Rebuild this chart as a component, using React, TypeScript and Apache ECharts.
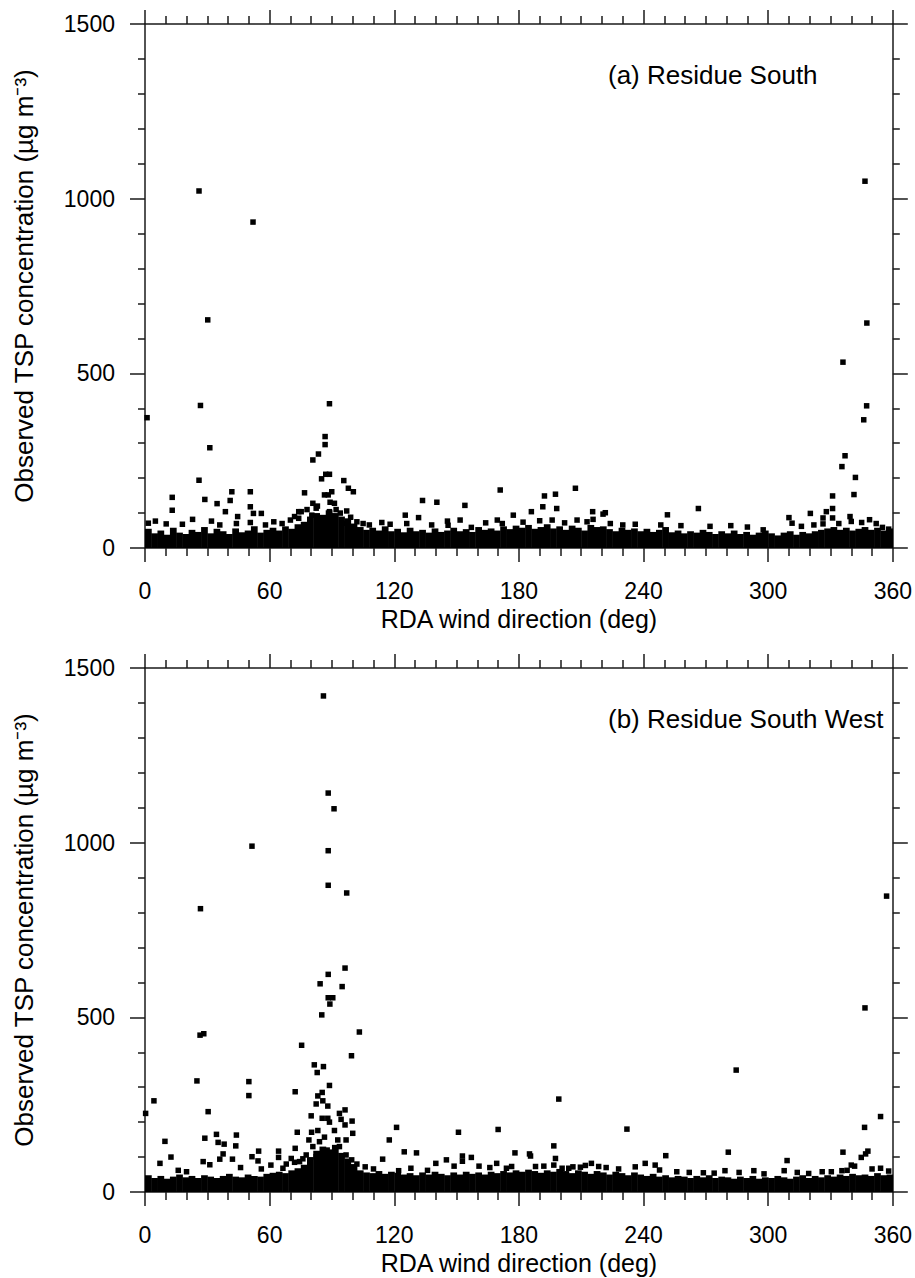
import React, { useEffect, useRef } from 'react';
import * as echarts from 'echarts';

const FONT = '"Liberation Sans", Arial, sans-serif';
const xTickStep = 60;
const yTickStep = 500;
const BIN = 3; // width (deg) of each dense-band bin

const titles = ['(a) Residue South', '(b) Residue South West'];
const xName = 'RDA wind direction (deg)';
const yName = 'Observed TSP concentration (\u00b5g m\u207b\u00b3)';

// upper edge of the dense band of low concentrations, one value per 3-degree bin (0..357)
const bandA = [
  55, 42, 50, 38, 58, 44, 40, 52, 46, 60, 42, 55, 48, 40, 56, 45, 50, 62, 44, 52,
  58, 50, 62, 55, 68, 75, 90, 100, 95, 108, 100, 90, 85, 70, 60, 52, 58, 50, 62, 48,
  55, 45, 58, 48, 52, 44, 56, 46, 50, 58, 48, 54, 46, 60, 52, 56, 50, 62, 54, 64,
  58, 66, 55, 60, 68, 56, 62, 52, 64, 58, 50, 66, 60, 62, 54, 48, 58, 52, 56, 48,
  55, 46, 52, 60, 45, 50, 42, 48, 44, 52, 46, 40, 48, 42, 50, 40, 46, 38, 44, 50,
  42, 36, 44, 48, 38, 46, 42, 48, 52, 56, 60, 52, 58, 50, 55, 60, 52, 58, 50, 56,
];
const bandB = [
  48, 40, 46, 38, 44, 50, 42, 46, 40, 48, 44, 40, 46, 52, 44, 42, 50, 46, 44, 52,
  55, 58, 54, 62, 68, 78, 100, 118, 130, 122, 135, 112, 96, 80, 62, 56, 54, 60, 52, 58,
  55, 50, 54, 48, 56, 50, 58, 52, 48, 56, 50, 58, 52, 56, 50, 58, 54, 60, 56, 62,
  58, 64, 60, 55, 62, 58, 66, 60, 54, 62, 58, 52, 60, 56, 50, 58, 54, 48, 56, 50,
  46, 52, 44, 48, 42, 46, 44, 40, 46, 42, 48, 40, 44, 42, 38, 44, 40, 46, 38, 42,
  40, 46, 42, 38, 44, 48, 40, 46, 42, 48, 44, 50, 46, 52, 48, 50, 46, 54, 48, 50,
];

// individual points standing above the band: [wind direction (deg), TSP (ug m-3)]
const pointsA = [
  [1.0, 373], [26.0, 1022], [30.2, 653], [52.0, 933], [26.7, 408], [31.2, 287], [26.0, 194],
  [88.8, 413], [86.7, 319], [86.7, 296], [346.6, 1050], [336.0, 532], [347.5, 644], [347.4, 407],
  [346.0, 367], [337.0, 264], [335.5, 233], [342.0, 202], [341.3, 153], [331.0, 149], [331.0, 113],
  [328.0, 104], [326.4, 86], [331.0, 86], [326.4, 69], [339.4, 90], [340.0, 76], [345.0, 73],
  [348.8, 81], [320.3, 99], [310.0, 87], [311.5, 71], [266.4, 113], [251.5, 95], [282.0, 64],
  [355.0, 59], [358.0, 54], [171.0, 166], [177.3, 94], [186.0, 104], [191.5, 118], [192.3, 149],
  [197.6, 154], [198.2, 113], [207.2, 171], [215.5, 104], [215.7, 82], [220.5, 97], [221.6, 101],
  [196.0, 80], [212.8, 75], [230.0, 66], [248.3, 66], [297.6, 52], [13.1, 145], [13.1, 108],
  [28.8, 139], [34.7, 127], [38.7, 104], [41.0, 136], [41.8, 161], [44.6, 90], [50.7, 161],
  [50.7, 118], [52.2, 99], [56.0, 99], [50.7, 73], [32.0, 77], [22.9, 82], [10.2, 69], [5.0, 77],
  [1.6, 71], [76.8, 158], [80.8, 252], [83.5, 269], [85.0, 198], [87.0, 211], [88.8, 211],
  [95.7, 193], [97.9, 171], [100.3, 161], [89.9, 161], [86.4, 152], [88.2, 152], [89.1, 131],
  [91.2, 128], [80.8, 128], [82.4, 114], [80.3, 94], [74.0, 104], [75.2, 104], [97.1, 106],
  [96.8, 71], [88.8, 104], [90.4, 90], [74.0, 85], [125.3, 94], [131.7, 87], [133.6, 136],
  [140.5, 131], [154.0, 122], [151.7, 80], [145.6, 77], [145.9, 65], [114.0, 73], [157.1, 59],
  [169.6, 80], [62, 75], [66, 70], [70, 80], [72, 90], [78, 110], [83, 120], [92, 110], [94, 100],
  [99, 88], [102, 75], [105, 70], [108, 66], [118, 68], [126, 70], [138, 66], [164, 72], [172, 70],
  [182, 74], [190, 78], [202, 72], [208, 80], [224, 70], [236, 68], [258, 64], [272, 62], [290, 60],
  [316, 62], [322, 66], [334, 70], [352, 70], [18, 68], [36, 66], [44, 70], [58, 66],
];
const pointsB = [
  [85.9, 1420], [88.2, 1142], [91.0, 1097], [51.5, 990], [88.2, 977], [88.2, 878], [97.1, 856],
  [26.7, 811], [96.3, 641], [88.2, 623], [84.3, 596], [94.9, 588], [88.2, 556], [90.4, 556],
  [89.0, 538], [85.1, 507], [103.2, 458], [26.5, 449], [28.3, 453], [75.4, 420], [99.4, 390],
  [81.5, 364], [85.9, 359], [82.9, 342], [346.6, 527], [357.0, 847], [284.6, 349], [199.2, 266],
  [232.0, 180], [0.3, 225], [4.3, 261], [25.0, 318], [50.0, 316], [50.0, 276], [30.4, 230],
  [9.6, 145], [7.2, 82], [12.5, 100], [28.8, 154], [28.0, 87], [34.4, 165], [35.2, 142],
  [38.1, 137], [44.0, 163], [43.7, 132], [42.1, 94], [37.6, 109], [36.0, 94], [31.2, 78],
  [51.5, 101], [54.7, 117], [54.4, 89], [60.6, 77], [64.3, 117], [64.3, 99], [66.4, 68],
  [70.4, 96], [72.3, 287], [73.3, 171], [72.3, 125], [80.0, 218], [80.2, 171], [82.4, 252],
  [83.2, 275], [85.3, 285], [88.8, 305], [85.6, 261], [88.0, 246], [85.3, 211], [88.0, 211],
  [88.8, 200], [83.2, 176], [78.9, 149], [84.0, 144], [86.4, 157], [91.2, 176], [92.8, 149],
  [93.6, 225], [96.3, 235], [94.4, 208], [96.3, 192], [99.7, 203], [100.0, 168], [96.8, 149],
  [96.8, 106], [99.5, 92], [114.4, 94], [117.6, 149], [121.1, 185], [124.8, 115], [130.7, 112],
  [122.1, 61], [140.0, 82], [145.1, 92], [150.9, 171], [152.8, 103], [157.1, 99], [152.8, 88],
  [160.8, 74], [148.8, 74], [170.0, 179], [169.3, 82], [77.6, 106], [74.4, 87], [80.8, 130],
  [82.4, 101], [87.7, 120], [90.4, 101], [93.6, 130], [196.8, 132], [197.6, 96], [196.8, 77],
  [178.1, 112], [185.1, 109], [185.6, 103], [176.5, 73], [188.0, 73], [200.8, 68], [204.0, 68],
  [209.6, 71], [214.9, 82], [218.4, 73], [240.8, 82], [245.6, 77], [247.7, 63], [250.7, 104],
  [268.8, 55], [279.2, 61], [280.8, 114], [293.1, 61], [307.7, 61], [309.1, 90], [319.5, 53],
  [336.0, 114], [335.5, 61], [340.0, 77], [341.6, 74], [344.8, 99], [346.9, 109], [348.0, 117],
  [346.4, 185], [354.1, 216], [354.1, 68], [330.4, 58], [16, 62], [20, 58], [46, 70], [56, 66],
  [68, 80], [72, 85], [76, 95], [102, 80], [106, 72], [110, 66], [128, 68], [136, 62], [166, 70],
  [174, 68], [192, 74], [206, 72], [212, 76], [222, 70], [228, 66], [236, 72], [256, 58], [262, 56],
  [274, 54], [286, 56], [298, 52], [314, 56], [326, 58], [338, 62], [350, 66], [358, 60],
];

const GRID_TOPS = [24, 668];
const AXIS_COLOR = '#1a1a1a';

export default function App() {
  const ref = useRef<HTMLDivElement>(null);
  useEffect(() => {
    if (!ref.current) return;
    const chart = echarts.init(ref.current, null, { renderer: 'svg' });
    const lineStyle = { color: AXIS_COLOR, width: 1.5 };
    const grids = GRID_TOPS.map((t) => ({ left: 145, top: t, width: 749, height: 524 }));
    const xAxes: any[] = [];
    const yAxes: any[] = [];
    const series: any[] = [];
    const bands = [bandA, bandB];
    const pts = [pointsA, pointsB];
    GRID_TOPS.forEach((_, gi) => {
      ['bottom', 'top'].forEach((pos) => {
        xAxes.push({
          gridIndex: gi,
          type: 'value',
          position: pos,
          min: 0,
          max: 360,
          interval: xTickStep,
          axisLine: { show: true, onZero: false, lineStyle },
          axisTick: { show: true, length: 14, lineStyle },
          minorTick: { show: true, splitNumber: 6, length: 8, lineStyle },
          splitLine: { show: false },
          axisLabel: {
            show: pos === 'bottom',
            fontSize: 23,
            color: '#000',
            fontFamily: FONT,
            margin: 31,
            formatter: (v: number) => String(v),
          },
          name: pos === 'bottom' ? xName : '',
          nameLocation: 'middle',
          nameGap: 58,
          nameTextStyle: { fontSize: 25, color: '#000', fontFamily: FONT },
        });
      });
      ['left', 'right'].forEach((pos) => {
        yAxes.push({
          gridIndex: gi,
          type: 'value',
          position: pos,
          min: 0,
          max: 1500,
          interval: yTickStep,
          axisLine: { show: true, onZero: false, lineStyle },
          axisTick: { show: true, length: 15, lineStyle },
          minorTick: { show: true, splitNumber: 5, length: 7, lineStyle },
          splitLine: { show: false },
          axisLabel: {
            show: pos === 'left',
            fontSize: 23,
            color: '#000',
            fontFamily: FONT,
            margin: 30,
            formatter: (v: number) => String(v),
          },
          name: pos === 'left' ? yName : '',
          nameLocation: 'middle',
          nameGap: 108,
          nameTextStyle: { fontSize: 26, color: '#000', fontFamily: FONT },
        });
      });
      series.push({
        type: 'custom',
        xAxisIndex: gi * 2,
        yAxisIndex: gi * 2,
        clip: true,
        data: bands[gi].map((v, i) => [i * BIN, v]),
        renderItem: (params: any, api: any) => {
          const x0 = api.value(0);
          const top = api.value(1);
          const p0 = api.coord([x0, 0]);
          const p1 = api.coord([x0 + BIN, top]);
          return {
            type: 'rect',
            shape: { x: p0[0], y: p1[1], width: p1[0] - p0[0] + 0.5, height: p0[1] - p1[1] },
            style: { fill: '#000' },
          };
        },
      });
      series.push({
        type: 'scatter',
        xAxisIndex: gi * 2,
        yAxisIndex: gi * 2,
        symbol: 'rect',
        symbolSize: 5.5,
        itemStyle: { color: '#000', opacity: 1 },
        data: pts[gi],
      });
    });
    chart.setOption({
      animation: false,
      backgroundColor: '#fff',
      title: titles.map((t, i) => ({
        text: t,
        left: 603,
        top: GRID_TOPS[i] + 33,
        textStyle: { fontSize: 26, fontWeight: 'normal', color: '#000', fontFamily: FONT },
      })),
      grid: grids,
      xAxis: xAxes,
      yAxis: yAxes,
      series,
    });
    return () => chart.dispose();
  }, []);
  return (
    <div
      ref={ref}
      style={{ position: 'absolute', left: 0, top: 0, width: 915, height: 1278, background: '#fff' }}
    />
  );
}
